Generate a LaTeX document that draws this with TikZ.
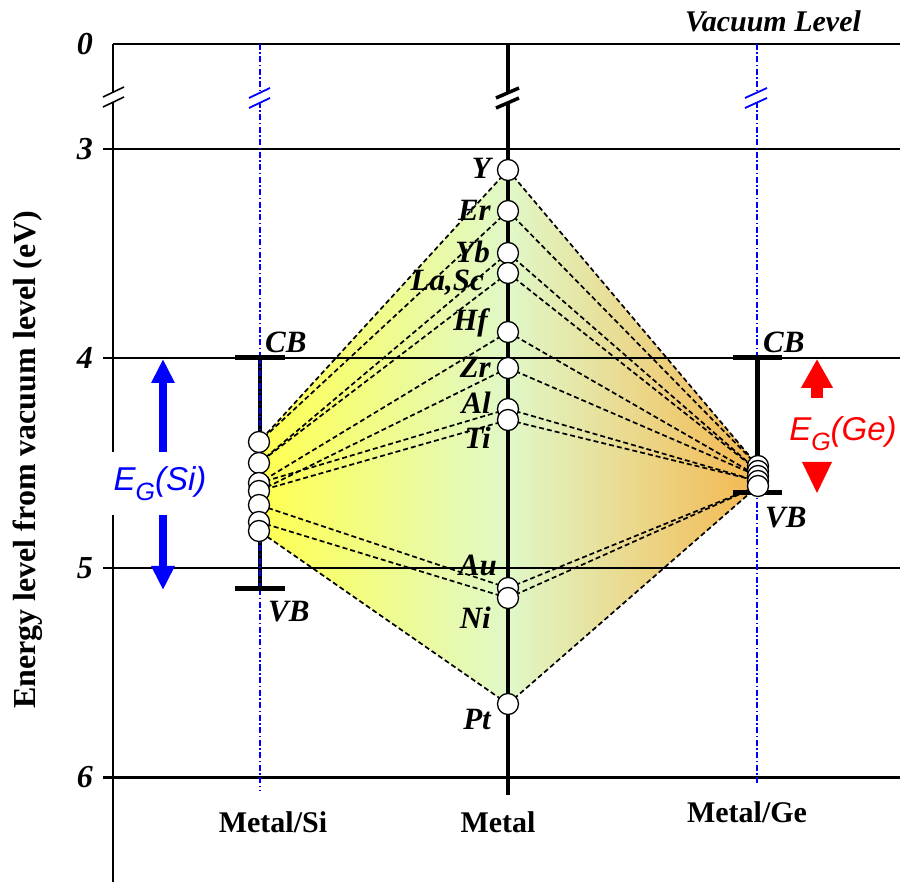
\documentclass[tikz,border=0pt]{standalone}
\usepackage{fontspec}
\setmainfont{Liberation Serif}
\setsansfont{Liberation Sans}
\usetikzlibrary{arrows.meta}
\pgfdeclarelayer{bg}
\pgfsetlayers{bg,main}
\definecolor{siyel}{RGB}{255,255,80}
\definecolor{midgreen}{RGB}{224,248,200}
\definecolor{georange}{RGB}{244,184,80}
\definecolor{egblue}{RGB}{0,0,255}
\definecolor{egred}{RGB}{255,0,0}
\begin{document}
\begin{tikzpicture}[x=1pt,y=-1pt,
  dot/.style={circle,draw=black,fill=white,line width=1.3pt,minimum size=21pt,inner sep=0pt},
  elab/.style={font=\fontsize{31}{36}\selectfont\bfseries\itshape, inner sep=0pt, anchor=east},
  axnum/.style={font=\fontsize{32}{36}\selectfont\bfseries\itshape, inner sep=0pt, anchor=east},
  collab/.style={font=\fontsize{30}{36}\selectfont\bfseries, inner sep=0pt},
  hline/.style={line width=1.8pt},
  dline/.style={dash pattern=on 5pt off 3pt, line width=1.7pt},
  bdash/.style={egblue, line width=1.2pt, dash pattern=on 6pt off 2.5pt on 1.5pt off 2.5pt},
  capline/.style={line width=5pt},
]
\useasboundingbox (0,0) rectangle (906,882);

% ---- metal dots ----
\node[dot] (mY)  at (508,170) {};
\node[dot] (mEr) at (508,211) {};
\node[dot] (mYb) at (508,253) {};
\node[dot] (mLa) at (508,273) {};
\node[dot] (mHf) at (508,332) {};
\node[dot] (mZr) at (508,368) {};
\node[dot] (mAl) at (508,409) {};
\node[dot] (mTi) at (508,420) {};
\node[dot] (mAu) at (508,588) {};
\node[dot] (mNi) at (508,598) {};
\node[dot] (mPt) at (508,704) {};

% ---- Si dots ----
\node[dot] (s1) at (259,442) {};
\node[dot] (s2) at (259,463) {};
\node[dot] (s3) at (259,483) {};
\node[dot] (s4) at (259,491) {};
\node[dot] (s5) at (259,505) {};
\node[dot] (s6) at (259,522) {};
\node[dot] (s7) at (259,531) {};

% ---- Ge dots ----
\node[dot] (g1) at (758,466) {};
\node[dot] (g2) at (758,471) {};
\node[dot] (g3) at (758,476) {};
\node[dot] (g4) at (758,481) {};
\node[dot] (g5) at (758,486) {};

% ---- element labels ----
\node[elab] (lY)  at (491,168) {Y};
\node[elab] (lEr) at (491,210) {Er};
\node[elab] (lYb) at (490,252) {Yb};
\node[elab] (lLa) at (484,283) {La,Sc};
\node[elab] (lHf) at (488,323) {Hf};
\node[elab] (lZr) at (491,367) {Zr};
\node[elab] (lAl) at (491,403) {Al};
\node[elab] (lTi) at (491,438) {Ti};
\node[elab] (lAu) at (497,565) {Au};
\node[elab] (lNi) at (491,618) {Ni};
\node[elab] (lPt) at (491,720) {Pt};

% ---- axis numbers ----
\node[axnum] (n0) at (93,44) {0};
\node[axnum] (n3) at (93,149) {3};
\node[axnum] (n4) at (93,358) {4};
\node[axnum] (n5) at (93,568) {5};
\node[axnum] (n6) at (93,777) {6};

% ---- CB / VB ----
\node[elab,anchor=west] (cbsi) at (265,342) {CB};
\node[elab,anchor=west] (vbsi) at (268,612) {VB};
\node[elab,anchor=west] (cbge) at (763,342) {CB};
\node[elab,anchor=west] (vbge) at (765,518) {VB};

% ---- other text ----
\node[font=\fontsize{30}{36}\selectfont\bfseries\itshape, inner sep=0pt] (vac) at (773,21) {Vacuum Level};
\node[collab] (cSi) at (273,822) {Metal/Si};
\node[collab] (cM) at (498,822) {Metal};
\node[collab] (cGe) at (747,812) {Metal/Ge};
\node[rotate=90, font=\fontsize{32}{36}\selectfont\bfseries, inner sep=0pt] (ylab) at (28,460) {Energy level from vacuum level (eV)};

\node[fill=white, text=egblue, font=\fontsize{33}{36}\selectfont\sffamily\itshape, inner xsep=2pt, minimum height=63pt] (egsi) at (160,484)
  {E\raisebox{-0.3em}{\fontsize{25}{25}\selectfont G}(Si)};
\node[text=egred, font=\fontsize{33}{36}\selectfont\sffamily\itshape, inner sep=0pt] (egge) at (843,434)
  {E\raisebox{-0.3em}{\fontsize{25}{25}\selectfont G}(Ge)};

% ---- arrow coordinates ----
\coordinate (bu0) at (163,452);
\coordinate (bu1) at (163,359);
\coordinate (bd0) at (163,515);
\coordinate (bd1) at (163,590);
\coordinate (ru0) at (817,398);
\coordinate (ru1) at (817,359);
\coordinate (rd1) at (817,493);

\draw[egblue, line width=8pt, -{Triangle[width=22pt,length=24pt]}] (bu0) -- (bu1);
\draw[egblue, line width=8pt, -{Triangle[width=22pt,length=24pt]}] (bd0) -- (bd1);
\draw[egred, line width=12pt, -{Triangle[width=30pt,length=29pt]}] (ru0) -- (ru1);
\fill[egred] (802,462) -- (832,462) -- (rd1) -- cycle;

\begin{pgfonlayer}{bg}
  % gradient region
  \shade[left color=siyel, right color=georange, middle color=midgreen]
    (mY.center) -- (s1.center) -- (s7.center) -- (mPt.center) -- (g5.center) -- (g1.center) -- cycle;

  % horizontal level lines
  \coordinate (h0a) at (113,44);  \coordinate (h0b) at (900,44);
  \coordinate (h3a) at (103,149); \coordinate (h3b) at (900,149);
  \coordinate (h4a) at (103,358); \coordinate (h4b) at (900,358);
  \coordinate (h5a) at (103,568); \coordinate (h5b) at (900,568);
  \coordinate (h6a) at (103,777); \coordinate (h6b) at (900,777);
  \draw[hline] (h0a) -- (h0b);
  \draw[hline] (h3a) -- (h3b);
  \draw[hline] (h4a) -- (h4b);
  \draw[hline] (h5a) -- (h5b);
  \draw[line width=3pt] (h6a) -- (h6b);

  % left axis with break
  \draw[line width=1.8pt] (113,44) -- (113,92);
  \draw[line width=1.8pt] (113,102) -- (113,882);
  \draw[line width=1.6pt] (103,97) -- (124,87);
  \draw[line width=1.6pt] (103,107) -- (124,97);

  % blue column lines
  \draw[bdash] (260,44) -- (260,92);
  \draw[bdash] (260,102) -- (260,790);
  \draw[egblue, line width=1.8pt] (249,98) -- (270,88);
  \draw[egblue, line width=1.8pt] (249,108) -- (270,98);
  \draw[bdash] (757,44) -- (757,92);
  \draw[bdash] (757,102) -- (757,784);
  \draw[egblue, line width=1.8pt] (745,98) -- (767,88);
  \draw[egblue, line width=1.8pt] (745,108) -- (767,98);

  % dashed connectors: metal -> Si
  \draw[dline] (mY.center) -- (s1.center);
  \draw[dline] (mEr.center) -- (s1.center);
  \draw[dline] (mYb.center) -- (s2.center);
  \draw[dline] (mLa.center) -- (s2.center);
  \draw[dline] (mHf.center) -- (s3.center);
  \draw[dline] (mZr.center) -- (s4.center);
  \draw[dline] (mAl.center) -- (s3.center);
  \draw[dline] (mTi.center) -- (s4.center);
  \draw[dline] (mAu.center) -- (s5.center);
  \draw[dline] (mNi.center) -- (s6.center);
  \draw[dline] (mPt.center) -- (s7.center);
  % metal -> Ge
  \draw[dline] (mY.center) -- (g1.center);
  \draw[dline] (mEr.center) -- (g1.center);
  \draw[dline] (mYb.center) -- (g2.center);
  \draw[dline] (mLa.center) -- (g2.center);
  \draw[dline] (mHf.center) -- (g3.center);
  \draw[dline] (mZr.center) -- (g3.center);
  \draw[dline] (mAl.center) -- (g4.center);
  \draw[dline] (mTi.center) -- (g4.center);
  \draw[dline] (mAu.center) -- (g5.center);
  \draw[dline] (mNi.center) -- (g5.center);
  \draw[dline] (mPt.center) -- (g5.center);

  % metal column line with break
  \draw[line width=4.5pt] (508,44) -- (508,93);
  \draw[line width=4.5pt] (508,103) -- (508,795);
  \draw[line width=3.5pt] (496,98) -- (519,88);
  \draw[line width=3.5pt] (496,108) -- (519,98);

  % Si band bar
  \coordinate (sicb) at (260,358); \coordinate (sivb) at (260,589);
  \draw[line width=4pt] (sicb) -- (sivb);
  \draw[bdash] (sicb) -- (sivb);
  \draw[capline] (235,358) -- (285,358);
  \draw[capline] (235,589) -- (285,589);

  % Ge band bar
  \coordinate (gecb) at (757,358); \coordinate (gevb) at (757,493);
  \draw[line width=5pt] (gecb) -- (gevb);
  \draw[capline] (733,358) -- (782,358);
  \draw[capline] (733,493) -- (782,493);
\end{pgfonlayer}
\end{tikzpicture}
\end{document}
